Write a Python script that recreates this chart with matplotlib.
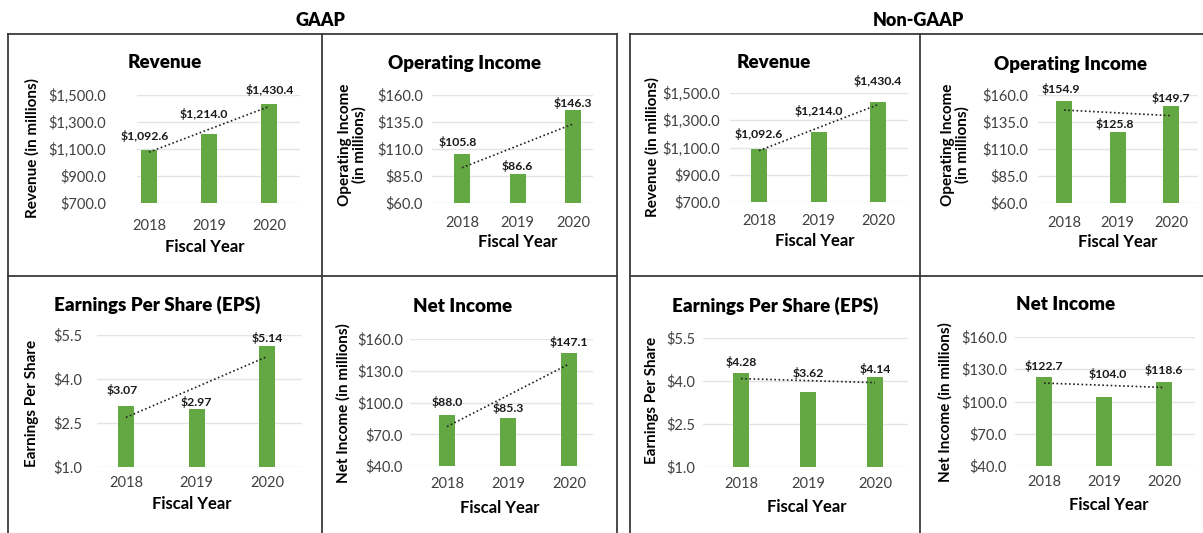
import numpy as np
import matplotlib
matplotlib.use('Agg')
import matplotlib.pyplot as plt
from matplotlib.lines import Line2D

plt.rcParams['font.family'] = ['Lato', 'DejaVu Sans']

# ---- data ----
years = ['2018', '2019', '2020']

gaap_revenue = [1092.6, 1214.0, 1430.4]
gaap_op_income = [105.8, 86.6, 146.3]
gaap_eps = [3.07, 2.97, 5.14]
gaap_net_income = [88.0, 85.3, 147.1]

ng_revenue = [1092.6, 1214.0, 1430.4]
ng_op_income = [154.9, 125.8, 149.7]
ng_eps = [4.28, 3.62, 4.14]
ng_net_income = [122.7, 104.0, 118.6]

W, H = 1203, 533
GREEN = '#64a844'
GRID = '#e4e4e4'
TICKC = '#404040'


def fx(x):
    return x / W


def fy(y):
    return 1 - y / H


def money(v, dec):
    return '$' + format(v, ',.%df' % dec)


fig = plt.figure(figsize=(W / 100, H / 100), dpi=100)

# panel boxes (pixels)
box_c = '#3a3a3a'
for xs, ys in [
    ([8, 8], [34, 533]), ([8, 617], [34, 34]), ([617, 617], [34, 533]),
    ([322, 322], [34, 533]), ([8, 617], [276, 276]),
    ([630, 630], [34, 533]), ([630, 1203], [34, 34]), ([920, 920], [34, 533]),
    ([630, 1203], [276, 276]),
]:
    fig.add_artist(Line2D([fx(x) for x in xs], [fy(y) for y in ys], color=box_c, lw=1.3))

fig.text(fx(320), fy(21), 'GAAP', ha='center', va='center', fontsize=13, fontweight='heavy')
fig.text(fx(918), fy(21), 'Non-GAAP', ha='center', va='center', fontsize=13, fontweight='heavy')


def draw_chart(vals, title, ylabel, ylim, step, lay, offs):
    # lay: grid left/right/top/bottom, bar centres, tick pads,
    # title / ylabel / xlabel centres  (all in px)
    left, right, top, bottom = lay['box']
    ax = fig.add_axes([fx(left), fy(bottom), (right - left) / W, (bottom - top) / H])
    c0, c2 = lay['bars']
    unit = (c2 - c0) / 2
    ax.set_xlim(-(c0 - left) / unit, 2 + (right - c2) / unit)
    ax.set_ylim(ylim)
    x = np.arange(len(vals))
    ax.bar(x, np.array(vals) - ylim[0], bottom=ylim[0], width=16 / unit, color=GREEN, zorder=2)

    # linear trendline
    k, b = np.polyfit(x, vals, 1)
    ax.plot(x, k * x + b, color='#222222', lw=1.2, ls=(0, (1, 1.5)), zorder=3)

    dec = 2 if ylim[1] < 10 else 1
    for i, v in enumerate(vals):
        dx, dy = offs[i]
        ax.annotate(money(v, dec), (i, v), xytext=(dx * 0.72, dy * 0.72),
                    textcoords='offset points', ha='center', va='center',
                    fontsize=8.8, fontweight='bold', color='#1a1a1a',
                    annotation_clip=False)

    ticks = np.arange(ylim[0], ylim[1] + step / 2, step)
    ax.set_yticks(ticks)
    ax.set_yticklabels([money(t, 1) for t in ticks])
    ax.set_xticks(x)
    ax.set_xticklabels(years)
    ax.tick_params(axis='y', length=0, pad=lay['ypad'] * 0.72, labelsize=10.5, labelcolor=TICKC)
    ax.tick_params(axis='x', length=0, pad=lay['xpad'] * 0.72, labelsize=10.5, labelcolor=TICKC)
    ax.grid(axis='y', color=GRID, lw=1, zorder=0)
    ax.set_axisbelow(True)
    for s in ax.spines.values():
        s.set_visible(False)
    ax.patch.set_alpha(0)

    tx, ty = lay['title']
    fig.text(fx(tx), fy(ty), title, ha='center', va='center', fontsize=13.5, fontweight='heavy')
    lx, ly = lay['ylab']
    fig.text(fx(lx), fy(ly), ylabel, ha='center', va='center', rotation=90,
             fontsize=11, fontweight='bold', linespacing=1.0)
    xx, xy = lay['xlab']
    fig.text(fx(xx), fy(xy), 'Fiscal Year', ha='center', va='center', fontsize=12, fontweight='bold')


# GAAP
draw_chart(gaap_revenue, 'Revenue', 'Revenue (in millions)', (700, 1500), 200,
           dict(box=(137, 300, 95, 203), bars=(149, 269), ypad=31, xpad=16,
                title=(165, 63), ylab=(32, 148), xlab=(205, 247)),
           [(-4, 14), (-5, 20), (1, 14)])
draw_chart(gaap_op_income, 'Operating Income', 'Operating Income\n(in millions)', (60, 160), 25,
           dict(box=(432, 593, 95, 203), bars=(462, 573), ypad=9, xpad=13,
                title=(465, 63), ylab=(352, 145), xlab=(518, 242)),
           [(-4, 12), (0, 8), (0, 7)])
draw_chart(gaap_eps, 'Earnings Per Share (EPS)', 'Earnings Per Share', (1.0, 5.5), 1.5,
           dict(box=(97, 302, 335, 467), bars=(126, 267), ypad=15, xpad=9,
                title=(157, 305), ylab=(32, 403), xlab=(192, 504)),
           [(-4, 16), (0, 7), (0, 8)])
draw_chart(gaap_net_income, 'Net Income', 'Net Income (in millions)', (40, 160), 30,
           dict(box=(410, 593, 339, 466), bars=(447, 569), ypad=7, xpad=11,
                title=(463, 307), ylab=(343, 403), xlab=(500, 508)),
           [(0, 13), (0, 10), (0, 11)])

# Non-GAAP
draw_chart(ng_revenue, 'Revenue', 'Revenue (in millions)', (700, 1500), 200,
           dict(box=(730, 908, 93, 202), bars=(759, 878), ypad=10, xpad=12,
                title=(774, 63), ylab=(652, 147), xlab=(815, 241)),
           [(0, 15), (0, 21), (0, 21)])
draw_chart(ng_op_income, 'Operating Income', 'Operating Income\n(in millions)', (60, 160), 25,
           dict(box=(1038, 1198, 95, 203), bars=(1064, 1171), ypad=10, xpad=13,
                title=(1070, 64), ylab=(955, 145), xlab=(1118, 242)),
           [(-3, 12), (-3, 8), (0, 8)])
draw_chart(ng_eps, 'Earnings Per Share (EPS)', 'Earnings Per Share', (1.0, 5.5), 1.5,
           dict(box=(703, 908, 338, 467), bars=(741, 875), ypad=8, xpad=10,
                title=(775, 306), ylab=(652, 400), xlab=(807, 507)),
           [(0, 11), (0, 19), (0, 8)])
draw_chart(ng_net_income, 'Net Income', 'Net Income (in millions)', (40, 160), 30,
           dict(box=(1015, 1195, 337, 466), bars=(1044, 1164), ypad=8, xpad=9,
                title=(1066, 305), ylab=(945, 402), xlab=(1109, 505)),
           [(0, 11), (4, 23), (0, 12)])

fig.savefig('out.png', dpi=100)
